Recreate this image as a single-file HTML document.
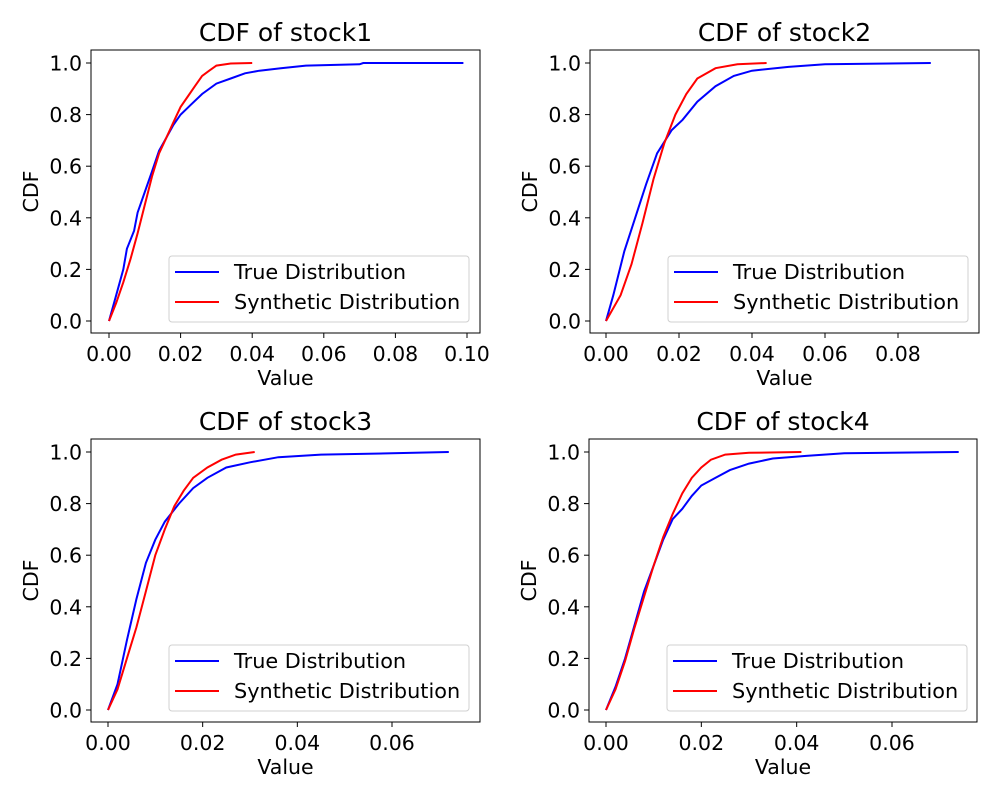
<!DOCTYPE html>
<html><head><meta charset="utf-8"><style>
body{margin:0;background:#fff;}
svg{display:block;font-family:"DejaVu Sans","Liberation Sans",sans-serif;}
</style></head><body>
<svg id="fig" width="1000" height="800"></svg>
<script>
const titles=["CDF of stock1","CDF of stock2","CDF of stock3","CDF of stock4"];
const xTicks1=[0,0.02,0.04,0.06,0.08,0.10];
const xTicks2=[0,0.02,0.04,0.06,0.08];
const xTicks3=[0,0.02,0.04,0.06];
const xTicks4=[0,0.02,0.04,0.06];
const yTicks=[0,0.2,0.4,0.6,0.8,1.0];
const true1X=[0,0.002,0.004,0.005,0.007,0.008,0.010,0.012,0.014,0.016,0.018,0.020,0.023,0.026,0.030,0.034,0.038,0.042,0.048,0.055,0.070,0.071,0.099];
const true1Y=[0,0.1,0.2,0.28,0.35,0.42,0.5,0.58,0.66,0.71,0.76,0.8,0.84,0.88,0.92,0.94,0.96,0.97,0.98,0.99,0.995,1,1];
const syn1X=[0,0.002,0.004,0.006,0.008,0.010,0.012,0.014,0.016,0.018,0.020,0.022,0.024,0.026,0.028,0.030,0.034,0.040];
const syn1Y=[0,0.07,0.15,0.24,0.34,0.45,0.56,0.65,0.71,0.77,0.83,0.87,0.91,0.95,0.97,0.99,0.998,1];
const true2X=[0,0.002,0.005,0.008,0.011,0.014,0.018,0.021,0.025,0.030,0.035,0.040,0.050,0.060,0.089];
const true2Y=[0,0.1,0.27,0.4,0.53,0.65,0.74,0.78,0.85,0.91,0.95,0.97,0.985,0.995,1];
const syn2X=[0,0.004,0.007,0.010,0.013,0.016,0.019,0.022,0.025,0.030,0.036,0.044];
const syn2Y=[0,0.1,0.22,0.38,0.55,0.69,0.8,0.88,0.94,0.98,0.995,1];
const true3X=[0,0.002,0.004,0.006,0.008,0.010,0.012,0.015,0.018,0.021,0.025,0.030,0.036,0.045,0.060,0.072];
const true3Y=[0,0.1,0.27,0.43,0.57,0.66,0.73,0.8,0.86,0.9,0.94,0.96,0.98,0.99,0.995,1];
const syn3X=[0,0.002,0.004,0.006,0.008,0.010,0.012,0.014,0.016,0.018,0.021,0.024,0.027,0.031];
const syn3Y=[0,0.08,0.2,0.32,0.46,0.6,0.7,0.79,0.85,0.9,0.94,0.97,0.99,1];
const true4X=[0,0.002,0.004,0.006,0.008,0.010,0.012,0.014,0.016,0.018,0.020,0.023,0.026,0.030,0.035,0.042,0.050,0.074];
const true4Y=[0,0.09,0.2,0.33,0.46,0.56,0.66,0.74,0.78,0.83,0.87,0.9,0.93,0.955,0.975,0.985,0.995,1];
const syn4X=[0,0.002,0.004,0.006,0.008,0.010,0.012,0.014,0.016,0.018,0.020,0.022,0.025,0.030,0.041];
const syn4Y=[0,0.08,0.19,0.32,0.44,0.56,0.67,0.76,0.84,0.9,0.94,0.97,0.99,0.997,1];

const NS="http://www.w3.org/2000/svg";
const svg=document.getElementById('fig');
function mk(tag,attrs,parent){const e=document.createElementNS(NS,tag);for(const k in attrs)e.setAttribute(k,attrs[k]);(parent||svg).appendChild(e);return e;}
const panels=[
 {l:91,r:480,t:50,b:333,x0:0,x1:0.10,px0:109,px1:467,ticks:xTicks1,tx:true1X,ty:true1Y,sx:syn1X,sy:syn1Y},
 {l:590,r:979,t:50,b:333,x0:0,x1:0.08,px0:606,px1:898,ticks:xTicks2,tx:true2X,ty:true2Y,sx:syn2X,sy:syn2Y},
 {l:91,r:480,t:439,b:722,x0:0,x1:0.06,px0:108,px1:392,ticks:xTicks3,tx:true3X,ty:true3Y,sx:syn3X,sy:syn3Y},
 {l:589,r:977,t:439,b:722,x0:0,x1:0.06,px0:606,px1:892,ticks:xTicks4,tx:true4X,ty:true4Y,sx:syn4X,sy:syn4Y}
];
panels.forEach((p,i)=>{
 const g=mk('g',{});
 
 
 const X=v=>p.px0+(v-p.x0)/(p.x1-p.x0)*(p.px1-p.px0);
 const y0=p.b-12,y1=p.t+13;
 const Y=v=>y0+v*(y1-y0);
 const t=mk('text',{x:(p.l+p.r)/2,y:p.t-9,'text-anchor':'middle','font-size':'25'},g);t.textContent=titles[i];
 
 
 p.ticks.forEach(v=>{
  const x=X(v);mk('line',{x1:x,x2:x,y1:p.b,y2:p.b+5,stroke:'#000','stroke-width':1},g);
  const tt=mk('text',{x:x,y:p.b+28,'text-anchor':'middle','font-size':'20.5'},g);tt.textContent=v.toFixed(2);
  
  
 });
 yTicks.forEach(v=>{
  const y=Y(v);mk('line',{x1:p.l-5,x2:p.l,y1:y,y2:y,stroke:'#000','stroke-width':1},g);
  const tt=mk('text',{x:p.l-9,y:y+7.5,'text-anchor':'end','font-size':'20.5'},g);tt.textContent=v.toFixed(1);
  
  
 });
 const xl=mk('text',{x:(p.l+p.r)/2,y:p.b+52,'text-anchor':'middle','font-size':'20.5'},g);xl.textContent='Value';
 
 
 const yl=mk('text',{x:0,y:0,'text-anchor':'middle','font-size':'20.5',transform:`translate(${p.l-53},${(p.t+p.b)/2}) rotate(-90)`},g);yl.textContent='CDF';
 
 
 const pts=(xs,ys)=>xs.map((v,k)=>X(v).toFixed(1)+','+Y(ys[k]).toFixed(1)).join(' ');
 const l1=mk('polyline',{points:pts(p.tx,p.ty),fill:'none',stroke:'#0000ff','stroke-width':2},g);
 
 
 const l2=mk('polyline',{points:pts(p.sx,p.sy),fill:'none',stroke:'#ff0000','stroke-width':2},g);
 
 
 mk('rect',{x:p.l,y:p.t,width:p.r-p.l,height:p.b-p.t,fill:'none',stroke:'#000','stroke-width':1},g);
 const lg=mk('g',{},g);
 
 
 const lx=p.l+78,ly=p.b-77;
 mk('rect',{x:lx,y:ly,width:300,height:66,rx:3,fill:'#fff','fill-opacity':0.8,stroke:'#d0d0d0'},lg);
 mk('line',{x1:lx+6,x2:lx+50,y1:ly+16,y2:ly+16,stroke:'#0000ff','stroke-width':2},lg);
 mk('line',{x1:lx+6,x2:lx+50,y1:ly+46,y2:ly+46,stroke:'#ff0000','stroke-width':2},lg);
 const a=mk('text',{x:lx+65,y:ly+23,'font-size':'20.8'},lg);a.textContent='True Distribution';
 
 
 const b=mk('text',{x:lx+65,y:ly+53,'font-size':'20.8'},lg);b.textContent='Synthetic Distribution';
 
 
});
</script>
</body></html>
